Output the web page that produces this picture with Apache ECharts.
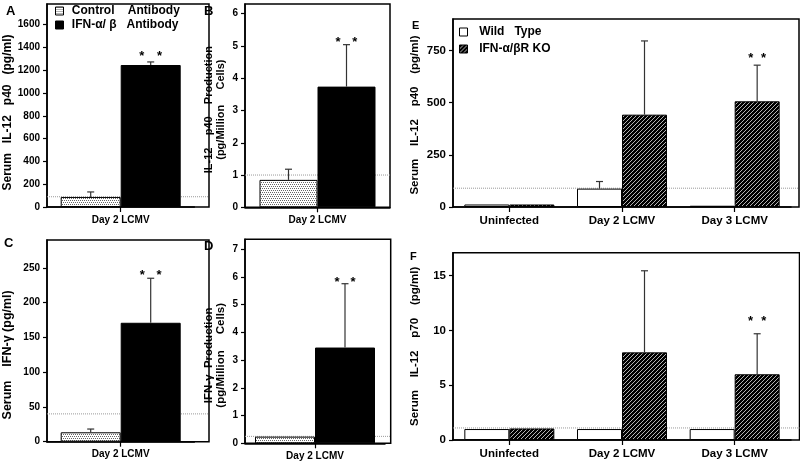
<!DOCTYPE html>
<html><head><meta charset="utf-8">
<script src="https://cdn.jsdelivr.net/npm/echarts@6/dist/echarts.min.js"></script>
<style>html,body{margin:0;padding:0;background:#fff}#c{width:800px;height:465px}</style>
</head><body><div id="c"></div>
<script>
// ---------------- data ----------------
const catsSingle = ['Day 2 LCMV'];
const catsTime = ['Uninfected', 'Day 2 LCMV', 'Day 3 LCMV'];

const nameControl = 'Control    Antibody';
const nameIFNab = 'IFN-α/ β   Antibody';
const nameWT = 'Wild   Type';
const nameKO = 'IFN-α/βR KO';

// Panel A: serum IL-12 p40 (pg/ml)
const aControl = [88], aControlErr = [44];
const aIFN = [1245], aIFNErr = [27], aSig = [1];
const aTicks = [0, 200, 400, 600, 800, 1000, 1200, 1400, 1600];
// Panel B: IL-12 p40 production (pg/million cells)
const bControl = [0.85], bControlErr = [0.33];
const bIFN = [3.74], bIFNErr = [1.30], bSig = [1];
const bTicks = [0, 1, 2, 3, 4, 5, 6];
// Panel C: serum IFN-gamma (pg/ml)
const cControl = [13.5], cControlErr = [4.7];
const cIFN = [171], cIFNErr = [64], cSig = [1];
const cTicks = [0, 50, 100, 150, 200, 250];
// Panel D: IFN-gamma production (pg/million cells)
const dControl = [0.24], dControlErr = [0];
const dIFN = [3.45], dIFNErr = [2.3], dSig = [1];
const dTicks = [0, 1, 2, 3, 4, 5, 6, 7];
// Panel E: serum IL-12 p40 (pg/ml)
const eWT = [12, 88, 6], eWTErr = [0, 34, 0];
const eKO = [12, 442, 506], eKOErr = [0, 353, 173], eSig = [0, 0, 1];
const eTicks = [0, 250, 500, 750];
// Panel F: serum IL-12 p70 (pg/ml)
const fWT = [1.0, 1.0, 1.0], fWTErr = [0, 0, 0];
const fKO = [1.05, 8.0, 6.0], fKOErr = [0, 7.45, 3.7], fSig = [0, 0, 1];
const fTicks = [0, 5, 10, 15];
// detection limits (dotted lines), panels A..F
const detectionLimits = [90, 1.0, 40, 0.25, 90, 1.1];

// ---------------- styling ----------------
const FONT = 'Liberation Sans, Arial, sans-serif';

function stipplePattern() {
  const c = document.createElement('canvas'); c.width = 4; c.height = 4;
  const g = c.getContext('2d');
  g.fillStyle = '#ffffff'; g.fillRect(0, 0, 4, 4);
  g.fillStyle = '#666666';
  [[0,0],[2,0],[1,2],[3,2]].forEach(p => g.fillRect(p[0], p[1], 1, 1));
  return { image: c, repeat: 'repeat' };
}
function hatchPattern() {
  const c = document.createElement('canvas'); c.width = 4; c.height = 4;
  const g = c.getContext('2d');
  g.fillStyle = '#000000'; g.fillRect(0, 0, 4, 4);
  g.fillStyle = '#b4b4b4';
  [[3,0],[2,1],[1,2],[0,3]].forEach(p => g.fillRect(p[0], p[1], 1, 1));
  return { image: c, repeat: 'repeat' };
}
const STIPPLE = stipplePattern();
const HATCH = hatchPattern();

const frames = [
  {left: 47, top: 4, width: 162, height: 203},
  {left: 245, top: 4, width: 145, height: 203.3},
  {left: 47, top: 240, width: 162, height: 201.7},
  {left: 245, top: 239.3, width: 145.7, height: 204},
  {left: 453, top: 19, width: 346, height: 188},
  {left: 453, top: 252.7, width: 346.5, height: 187.3}
];
const plotWidths = [147.4, 145, 147.4, 140, 338, 338];

const panels = [
  {cats: catsSingle, ticks: aTicks, max: 1780, interval: 200,
   s1: {name: nameControl, data: aControl, err: aControlErr, color: STIPPLE},
   s2: {name: nameIFNab, data: aIFN, err: aIFNErr, sig: aSig, color: '#000'},
   barWidth: 60, yName: 'Serum   IL-12   p40   (pg/ml)', nameSize: 12, nameGap: 31, namePad: [0, 14, 0, 0],
   tickSize: 10, catSize: 10, starGap: 8.7, starSep: 17.7},
  {cats: catsSingle, ticks: bTicks, max: 6.3, interval: 1,
   s1: {name: nameControl, data: bControl, err: bControlErr, color: STIPPLE},
   s2: {name: nameIFNab, data: bIFN, err: bIFNErr, sig: bSig, color: '#000'},
   barWidth: 58, yName: 'IL-12    p40    Production\n(pg/Million     Cells)', nameSize: 11, nameGap: 18, namePad: [0, 8, 0, 0],
   tickSize: 10, catSize: 10, starGap: 5.3, starSep: 16.7},
  {cats: catsSingle, ticks: cTicks, max: 290, interval: 50,
   s1: {name: nameControl, data: cControl, err: cControlErr, color: STIPPLE},
   s2: {name: nameIFNab, data: cIFN, err: cIFNErr, sig: cSig, color: '#000'},
   barWidth: 60, yName: 'Serum    IFN-γ (pg/ml)', nameSize: 12.5, nameGap: 33, namePad: [0, 28, 0, 0],
   tickSize: 10, catSize: 10, starGap: 6, starSep: 16.7},
  {cats: catsSingle, ticks: dTicks, max: 7.35, interval: 1,
   s1: {name: nameControl, data: dControl, err: dControlErr, color: STIPPLE},
   s2: {name: nameIFNab, data: dIFN, err: dIFNErr, sig: dSig, color: '#000'},
   barWidth: 60, yName: 'IFN-γ  Production\n(pg/Million     Cells)', nameSize: 11.5, nameGap: 18, namePad: [0, 28, 0, 0],
   tickSize: 10, catSize: 10, starGap: 4.5, starSep: 16},
  {cats: catsTime, ticks: eTicks, max: 900, interval: 250,
   s1: {name: nameWT, data: eWT, err: eWTErr, color: '#fff'},
   s2: {name: nameKO, data: eKO, err: eKOErr, sig: eSig, color: HATCH},
   barWidth: 45, yName: 'Serum    IL-12    p40    (pg/ml)', nameSize: 11.5, nameGap: 32, namePad: [0, 4, 0, 0],
   tickSize: 11.5, catSize: 11.5, starGap: 10, starSep: 12.7},
  {cats: catsTime, ticks: fTicks, max: 17.1, interval: 5,
   s1: {name: nameWT, data: fWT, err: fWTErr, color: '#fff'},
   s2: {name: nameKO, data: fKO, err: fKOErr, sig: fSig, color: HATCH},
   barWidth: 45, yName: 'Serum    IL-12    p70    (pg/ml)', nameSize: 11.5, nameGap: 32, namePad: [0, 0, 0, 0],
   tickSize: 11.5, catSize: 11.5, starGap: 15, starSep: 13.3}
];

const grid = [], xAxis = [], yAxis = [], series = [];
// frame grids (0..5)
frames.forEach((f, p) => {
  grid.push(Object.assign({show: true, borderColor: '#000', borderWidth: 1.5, backgroundColor: 'transparent', outerBoundsMode: 'none'}, f));
  xAxis.push({type: 'value', gridIndex: p, min: 0, max: 1, show: false});
  yAxis.push({type: 'value', gridIndex: p, min: 0, max: panels[p].max, show: false});
  series.push({type: 'line', xAxisIndex: p, yAxisIndex: p, silent: true, z: 1,
    data: [[0, detectionLimits[p]], [1, detectionLimits[p]]], symbol: 'none',
    lineStyle: {type: 'dotted', color: '#9a9a9a', width: 1}});
});
// data grids (6..11)
panels.forEach((P, p) => {
  const f = frames[p], gi = 6 + p;
  grid.push({left: f.left, top: f.top, width: plotWidths[p], height: f.height, show: false, outerBoundsMode: 'none'});
  xAxis.push({type: 'category', gridIndex: gi, data: P.cats,
    axisLine: {show: true, lineStyle: {color: '#000', width: 1.5}},
    axisTick: {show: true, alignWithLabel: true, length: 5, lineStyle: {color: '#000', width: 1.2}},
    axisLabel: {margin: 8, fontSize: P.catSize, fontWeight: 'bold', color: '#000', fontFamily: FONT},
    splitLine: {show: false}});
  yAxis.push({type: 'value', gridIndex: gi, min: 0, max: P.max, interval: P.interval,
    axisLine: {show: true, lineStyle: {color: '#000', width: 1.5}},
    splitLine: {show: false},
    axisTick: {show: true, length: 4, customValues: P.ticks, lineStyle: {color: '#000', width: 1.2}},
    axisLabel: {customValues: P.ticks, formatter: v => String(v), margin: 7, fontSize: P.tickSize, fontWeight: 'bold', color: '#000', fontFamily: FONT},
    name: P.yName, nameLocation: 'middle', nameRotate: 90, nameGap: P.nameGap,
    nameTextStyle: {fontSize: P.nameSize, fontWeight: 'bold', color: '#000', fontFamily: FONT, padding: P.namePad, lineHeight: 12, align: 'center'}});
  [P.s1, P.s2].forEach((s, k) => {
    series.push({type: 'bar', name: s.name, xAxisIndex: gi, yAxisIndex: gi, data: s.data,
      barWidth: P.barWidth, barGap: '0%', z: 2, silent: true,
      itemStyle: {color: s.color, borderColor: '#000', borderWidth: 1}});
    const offset = (k === 0 ? -1 : 1) * P.barWidth / 2;
    const sig = s.sig || s.data.map(() => 0);
    series.push({type: 'custom', xAxisIndex: gi, yAxisIndex: gi, z: 5, silent: true,
      data: s.data.map((v, i) => [i, v, s.err[i], sig[i]]),
      encode: {x: 0, y: 1},
      renderItem: function (params, api) {
        const i = api.value(0), v = api.value(1), e = api.value(2), st = api.value(3);
        const b = api.coord([i, v]), t = api.coord([i, v + e]);
        const x = b[0] + offset, ch = [];
        if (e > 0) {
          ch.push({type: 'line', shape: {x1: x, y1: b[1], x2: x, y2: t[1]}, style: {stroke: '#333', lineWidth: 1.2}});
          ch.push({type: 'line', shape: {x1: x - 3.5, y1: t[1], x2: x + 3.5, y2: t[1]}, style: {stroke: '#333', lineWidth: 1.2}});
        }
        if (st) {
          [-P.starSep / 2, P.starSep / 2].forEach(dx => ch.push({type: 'text', x: x + dx, y: t[1] - P.starGap + 3,
            style: {text: '*', font: 'bold 13px ' + FONT, fill: '#000', align: 'center', verticalAlign: 'middle'}}));
        }
        return {type: 'group', children: ch};
      }});
  });
});

const titleSpec = [['A', 6, 5, 13], ['B', 204, 5, 13], ['C', 4, 237, 13], ['D', 204, 240, 13], ['E', 412, 20, 11], ['F', 410, 251, 11]];

const option = {
  animation: false,
  backgroundColor: '#fff',
  title: titleSpec.map(t => ({text: t[0], left: t[1], top: t[2], padding: 0,
    textStyle: {fontSize: t[3], fontWeight: 'bold', color: '#000', fontFamily: FONT}})),
  legend: [
    {left: 55, top: 5, orient: 'vertical', padding: 0, itemGap: 2, itemWidth: 8, itemHeight: 8, icon: 'rect', selectedMode: false,
     formatter: n => ' ' + n,
     textStyle: {fontSize: 12, fontWeight: 'bold', color: '#000', fontFamily: FONT},
     data: [{name: nameControl, itemStyle: {color: STIPPLE, borderColor: '#000', borderWidth: 1}},
            {name: nameIFNab, itemStyle: {color: '#000', borderColor: '#000', borderWidth: 1}}]},
    {left: 459, top: 26, orient: 'vertical', padding: 0, itemGap: 5, itemWidth: 8, itemHeight: 8, icon: 'rect', selectedMode: false,
     formatter: n => '  ' + n,
     textStyle: {fontSize: 12, fontWeight: 'bold', color: '#000', fontFamily: FONT},
     data: [{name: nameWT, itemStyle: {color: '#fff', borderColor: '#000', borderWidth: 1}},
            {name: nameKO, itemStyle: {color: HATCH, borderColor: '#000', borderWidth: 1}}]}
  ],
  grid, xAxis, yAxis, series
};
const chart = echarts.init(document.getElementById('c'), null, {renderer: 'canvas'});
chart.setOption(option);
</script></body></html>
